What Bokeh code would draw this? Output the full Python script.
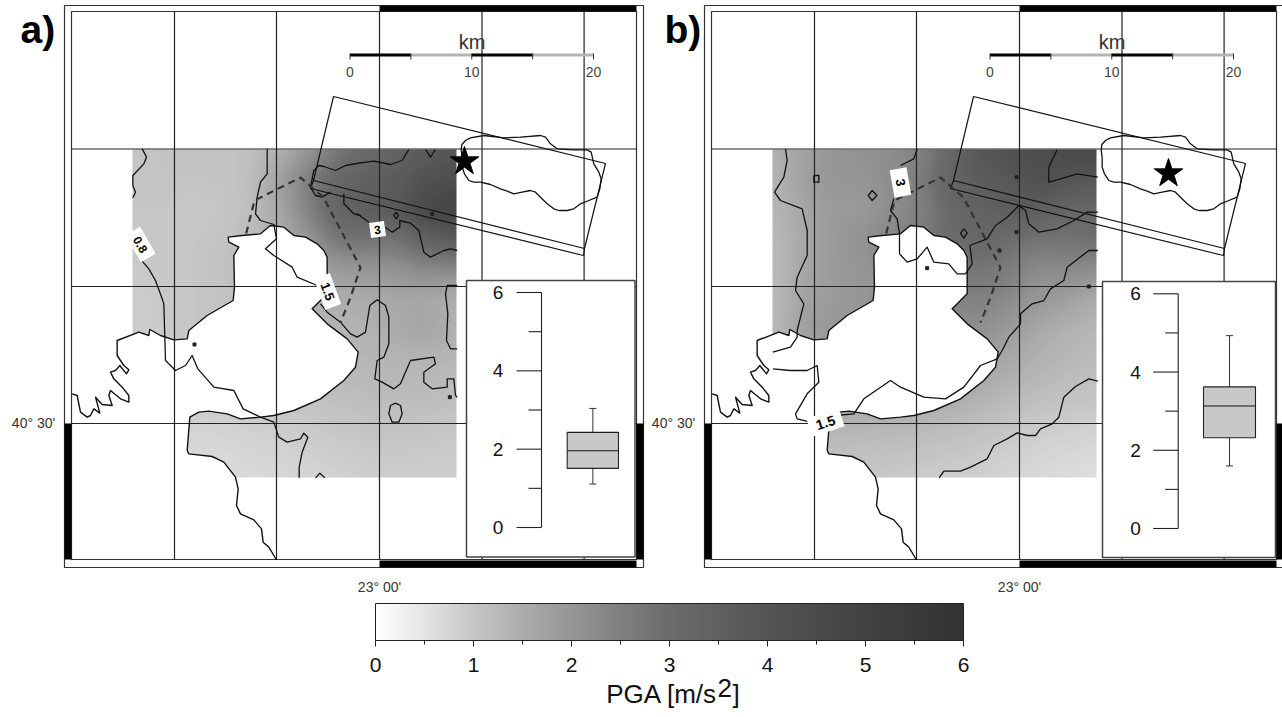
import numpy as np
from bokeh.plotting import figure
from bokeh.models import Range1d, LinearColorMapper
from bokeh.core.properties import value
from bokeh.embed import file_html
from bokeh.resources import INLINE

FONT = value("Liberation Sans")
W, H = 1282, 717
SHIFT = 640

# PGA field estimates, m/s2 (rows top to bottom, columns left to right)
pga_a = [
 [1.05,1.05,1.10,1.10,1.10,1.40,2.00,2.70,3.10,3.30,3.70,3.90],
 [1.05,1.05,1.05,1.05,1.15,1.80,2.60,3.30,3.50,3.70,4.10,4.40],
 [1.00,1.00,0.95,1.00,1.15,1.60,2.50,3.40,3.60,3.80,4.70,5.00],
 [1.00,1.00,1.00,1.05,1.20,1.50,2.00,2.80,2.80,2.80,3.40,3.70],
 [0.95,1.00,1.00,1.10,1.25,1.40,1.60,1.90,2.00,2.10,2.30,2.30],
 [0.90,0.95,1.00,1.05,1.15,1.25,1.40,1.50,1.50,1.60,1.60,1.40],
 [0.90,0.95,1.00,1.10,1.20,1.25,1.30,1.35,1.40,1.55,1.70,1.40],
 [0.85,0.90,1.00,1.10,1.15,1.20,1.25,1.30,1.30,1.35,1.35,1.30],
 [0.85,0.90,0.95,1.00,1.05,1.10,1.15,1.20,1.25,1.25,1.25,1.20],
 [0.75,0.80,0.85,0.85,0.90,0.95,1.00,1.05,1.10,1.10,1.10,1.05],
 [0.70,0.72,0.72,0.72,0.78,0.82,0.88,0.92,0.98,1.00,0.95,0.95],
 [0.62,0.65,0.65,0.65,0.70,0.72,0.78,0.82,0.88,0.90,0.90,0.90],
]
pga_b = [
 [1.40,1.70,2.00,2.10,2.20,2.40,3.20,3.90,4.20,4.40,4.60,4.60],
 [1.30,1.80,2.00,2.00,2.20,2.60,3.30,3.60,3.80,4.20,4.00,3.80],
 [1.30,1.60,1.90,1.90,2.20,2.40,3.20,3.40,3.60,3.60,3.20,3.20],
 [1.20,1.60,1.90,2.10,2.40,2.60,3.00,3.20,3.00,2.80,2.80,3.00],
 [1.20,1.60,1.90,2.00,2.20,2.40,2.60,2.80,2.60,2.20,2.30,2.20],
 [1.20,1.70,1.90,2.00,2.20,2.20,2.40,2.50,2.30,2.00,1.80,1.50],
 [1.20,1.80,2.00,2.00,2.00,2.00,2.20,2.20,1.90,1.60,1.40,1.30],
 [1.20,1.60,1.80,1.90,2.00,2.00,2.00,1.80,1.60,1.40,1.30,1.20],
 [1.20,1.50,1.70,1.80,1.80,1.80,1.70,1.50,1.35,1.25,1.15,1.10],
 [1.45,1.45,1.45,1.45,1.40,1.35,1.30,1.20,1.10,1.00,0.95,0.90],
 [1.15,1.15,1.15,1.15,1.15,1.10,1.05,1.00,0.90,0.80,0.75,0.70],
 [1.00,1.00,1.00,1.00,0.95,0.92,0.88,0.85,0.75,0.70,0.65,0.60],
]
# Grey ramp
ramp_values = [0, 0.5, 1, 1.5, 2, 2.5, 3, 4, 5, 6]
ramp_greys = [255, 228, 198, 172, 150, 128, 108, 84, 66, 50]
# Box statistics (whisker low, Q1, median, Q3, whisker high)
box_a = [1.11, 1.51, 1.96, 2.43, 3.04]
box_b = [1.60, 2.32, 3.13, 3.62, 4.93]
inset_ticks = [0, 1, 2, 3, 4, 5, 6]
bar_ticks = [0, 1, 2, 3, 4, 5, 6]
km_ticks = [0, 5, 10, 15, 20]
km_labels = ["0", "10", "20"]


def P(ox, oy, seq):
    return [(ox + a / 3, oy + b / 3) for a, b in seq]


coast = P(60, 280, [(648,838),(640,825),(625,800),(608,785),(603,745),(580,718),(540,700),(528,675),(533,625),(525,590),(490,545),(455,528),(385,520),(380,510),(388,410),(415,395),(445,392),(500,400),(540,415),(600,410),(640,405),(700,390),(780,355),(850,300),(885,260),(893,215),(860,175),(800,130),(755,85),(765,75),(800,40),(800,-70),(790,-90),(770,-110),(735,-130),(700,-135),(670,-160),(630,-165),(600,-140),(545,-135),(503,-130),(505,-115),(535,-100),(520,-75),(522,20),(518,60),(440,105),(385,150),(380,175),(340,178),(300,165),(268,147),(265,165),(235,155),(170,180),(170,225),(190,255),(205,268),(198,280),(178,255),(165,270),(150,275),(160,295),(185,320),(205,345),(205,365),(180,355),(150,330),(145,345),(155,375),(125,372),(105,350),(118,398),(100,385),(90,405),(80,410),(60,395),(50,345),(35,340)])
sea_closure = [(71, 393), (71, 559)]

fault_box = [(333,96),(605,163),(584,248),(313,180),(333,96)]
fault_lower = [(313,180),(310,188),(583,255),(584,248)]
dashed_trace = [(245.7,233),(254,200),(300,177),(323,197),(360,267),(350,297),(340,322)]
blob = P(340, 0, [(365,470),(362,450),(364,432),(375,420),(390,412),(430,405),(490,412),(540,410),(600,405),(615,410),(630,430),(650,445),(700,448),(740,448),(752,455),(760,490),(775,515),(782,535),(778,565),(770,590),(745,600),(720,610),(700,625),(680,630),(655,630),(640,625),(620,610),(600,590),(585,575),(570,570),(545,575),(520,580),(500,572),(480,565),(450,552),(420,545),(400,545),(385,540),(372,520),(365,500),(365,470)])

contours_a = [
 P(60,0,[(245,445),(258,470),(250,490),(217,525),(217,555),(225,575),(217,592)]),
 P(60,0,[(245,782),(265,805),(285,840),(305,895)]) + P(60,280,[(310,70),(315,240),(345,270),(375,255),(395,225),(412,265),(460,320),(520,330),(548,385),(600,410),(640,425),(655,470),(680,485),(720,475),(730,458),(742,470),(725,515),(716,560),(716,592)]),
 P(60,0,[(620,445),(620,520),(600,545),(590,590),(585,640),(600,660),(640,672),(648,715),(615,745),(640,765),(695,800),(710,830),(770,855)]),
 P(60,280,[(780,70),(800,95)]) + P(340,280,[(0,125),(30,160),(50,170),(75,155),(88,75),(110,58),(135,75),(145,110),(145,190),(130,230),(110,240),(103,295),(125,305),(160,325),(180,310),(210,240),(280,230),(285,250),(250,275),(250,305),(275,325),(320,320),(320,295),(340,295),(345,345),(350,350)]),
 P(340,280,[(350,15),(320,15),(315,40),(322,100),(318,180),(330,205),(350,205)]),
 P(340,280,[(165,368),(150,375),(145,400),(155,425),(175,425),(185,400),(180,375),(165,368)]),
 P(60,280,[(765,592),(778,578),(793,592)]),
 P(60,0,[(810,575),(785,590),(765,585),(750,560),(760,510),(775,495),(790,498),(825,510),(855,495),(900,487)]) + P(340,0,[(40,490),(100,482),(150,492),(185,480),(205,447)]),
 P(60,0,[(850,580),(850,610),(880,640),(900,645)]) + P(340,0,[(50,640),(85,665)]),
 P(340,0,[(135,680),(155,695),(178,680),(178,660),(210,668),(235,690),(250,755),(270,770),(310,750),(330,745),(350,750)]),
 P(340,0,[(255,447),(270,470),(285,447)]),
 P(340,0,[(167,635),(160,645),(167,655),(174,645),(167,635)]),
]
contours_b = [
 P(60,130,[(255,55),(260,90),(250,140),(222,185),(240,210),(305,235),(320,300),(320,375),(290,440),(285,480),(310,520),(290,600),(290,620),(270,650),(217,665)]),
 P(60,280,[(217,265),(270,270),(320,270),(350,255),(355,305),(320,340),(285,400),(290,415),(330,425)]),
 P(60,280,[(405,405),(460,400),(490,355),(570,300),(600,320),(670,350),(735,355),(790,320),(840,255),(890,235),(905,210),(925,170)]) + P(320,280,[(145,170),(180,130),(180,100),(215,70),(250,60),(270,25),(310,0)]) + P(320,0,[(320,800),(385,750),(412,750)]),
 P(60,130,[(795,430),(815,400),(808,345),(860,325),(885,285),(920,260),(955,225)]) + P(320,0,[(195,630),(205,670),(235,695),(290,685),(340,660),(380,635),(412,635)]),
 P(60,130,[(650,55),(640,85),(600,105)]),
 P(60,130,[(580,205),(570,240),(590,265),(597,310),(597,370),(620,395),(650,385),(680,350),(700,395),(745,400),(770,430),(795,430)]),
 P(320,0,[(290,447),(265,500),(265,545),(300,535),(350,520),(412,530)]),
 P(320,280,[(412,302),(385,295),(345,318),(310,350),(295,410),(275,430),(240,445),(225,465),(200,465),(170,457),(140,475),(100,495),(80,535),(30,560),(0,572)]) + P(60,280,[(730,572),(716,592)]),
 P(60,130,[(515,180),(503,195),(515,210),(529,195),(515,180)]),
 P(60,130,[(340,135),(355,135),(355,155),(340,155),(340,135)]),
 P(60,130,[(790,295),(780,308),(790,323),(800,308),(790,295)]),
]
dots_a = P(60,280,[(402,192)]) + P(340,280,[(328,350)]) + P(340,0,[(275,640)])
dots_b = P(320,0,[(168,530),(168,695),(117,750),(385,858)]) + P(60,130,[(680,413)])

stars = {"a": (464, 161), "b": (1168, 173)}

p = figure(width=W, height=H, output_backend="svg", toolbar_location=None,
           x_range=Range1d(0, W), y_range=Range1d(H, 0),
           min_border=0, outline_line_color=None)
p.axis.visible = False
p.grid.visible = False

ramp_x = np.linspace(0, 6, 256)
palette = ["#%02x%02x%02x" % (g, g, g) for g in np.interp(ramp_x, ramp_values, ramp_greys).round().astype(int)]
mapper = LinearColorMapper(palette=palette, low=0, high=6)


def raster(field):
    """Resample the coarse estimate for display only: bilinear, then a box blur."""
    arr = np.array(field, dtype=float)
    n = 216
    rows = np.linspace(0, arr.shape[0] - 1, n)
    cols = np.linspace(0, arr.shape[1] - 1, n)
    tmp = np.array([np.interp(cols, np.arange(arr.shape[1]), r) for r in arr])
    out = np.array([np.interp(rows, np.arange(arr.shape[0]), tmp[:, j]) for j in range(n)]).T
    k = np.ones(13) / 13
    for _ in range(2):
        out = np.apply_along_axis(lambda v: np.convolve(np.pad(v, 6, mode="edge"), k, mode="valid"), 0, out)
        out = np.apply_along_axis(lambda v: np.convolve(np.pad(v, 6, mode="edge"), k, mode="valid"), 1, out)
    return out


def poly(seq, dx=0):
    return [a + dx for a, _ in seq], [b for _, b in seq]


def rect_patch(x0, x1, y0, y1, color):
    p.quad(left=[x0], right=[x1], top=[y0], bottom=[y1], fill_color=color, line_color=None)


def draw_panel(dx, field, contours, dots, star, box, inset, label, lab_x):
    p.image(image=[raster(field)], x=132 + dx, y=149, dw=324, dh=328, color_mapper=mapper)
    # sea mask
    xs, ys = poly(coast + sea_closure, dx)
    p.patch(xs, ys, fill_color="white", line_color=None)
    # frame
    p.quad(left=[64 + dx], right=[643 + dx], top=[5], bottom=[567], fill_color=None, line_color="#333333", line_width=1.2)
    p.quad(left=[71 + dx], right=[636 + dx], top=[11], bottom=[559], fill_color=None, line_color="#333333", line_width=1.2)
    rect_patch(379 + dx, 636 + dx, 5, 11, "black")
    rect_patch(379 + dx, 636 + dx, 560, 567, "black")
    rect_patch(64 + dx, 71 + dx, 423, 559, "black")
    rect_patch(636 + dx, 643 + dx, 423, 559, "black")
    # graticule
    for gx in [174, 276, 379, 481.5, 583.6]:
        p.line([gx + dx, gx + dx], [11, 559], line_color="#222222", line_width=1.2)
    for gy in [148.5, 286, 423]:
        p.line([71 + dx, 636 + dx], [gy, gy], line_color="#222222", line_width=1.2)
    # contours and outlines
    cx = [[a + dx for a, _ in c] for c in contours]
    cy = [[b for _, b in c] for c in contours]
    p.multi_line(cx, cy, line_color="#111111", line_width=1.3, line_join="round")
    xs, ys = poly(coast, dx)
    p.line(xs, ys, line_color="#111111", line_width=1.4, line_join="round")
    xs, ys = poly(blob, dx)
    p.line(xs, ys, line_color="#111111", line_width=1.3, line_join="round")
    xs, ys = poly(fault_box, dx)
    p.line(xs, ys, line_color="#111111", line_width=1.2)
    xs, ys = poly(fault_lower, dx)
    p.line(xs, ys, line_color="#111111", line_width=1.2)
    xs, ys = poly(dashed_trace, dx)
    p.line(xs, ys, line_color="#333333", line_width=2.2, line_dash="7 5")
    p.scatter([a + dx for a, _ in dots], [b for _, b in dots], size=3, marker="square", color="#222222")
    p.scatter([star[0]], [star[1]], marker="star", size=30, fill_color="black", line_color="black")
    # scale bar
    kx = lambda km: 349.5 + dx + km * 243.5 / 20
    for i in range(4):
        rect_patch(kx(km_ticks[i]), kx(km_ticks[i + 1]), 53, 56, "black" if i % 2 == 0 else "#b4b4b4")
    for k in km_ticks:
        p.line([kx(k), kx(k)], [53, 59], line_color="#333333", line_width=1)
    p.text([kx(int(t)) for t in km_labels], [71] * 3, text=km_labels, text_font=FONT, text_font_size="14px",
           text_color="#444444", text_align="center", text_baseline="middle")
    p.text([471.5 + dx], [41], text=["km"], text_font=FONT, text_font_size="20px", text_color="#333333",
           text_align="center", text_baseline="middle")
    # inset
    ix0, ix1, iy0, iy1, ax, lx, bx0, bx1, y0v, y6v = inset
    p.quad(left=[ix0], right=[ix1], top=[iy0], bottom=[iy1], fill_color="white", line_color="#444444", line_width=1.5)
    vy = lambda v: y0v + (y6v - y0v) * v / 6
    p.line([ax, ax], [vy(0), vy(6)], line_color="#222222", line_width=1.1)
    for t in inset_ticks:
        major = t % 2 == 0
        p.line([ax - (25 if major else 13), ax], [vy(t), vy(t)], line_color="#222222", line_width=1.1)
        if major:
            p.text([lx], [vy(t)], text=[str(t)], text_font=FONT, text_font_size="19px", text_color="#111111",
                   text_align="center", text_baseline="middle")
    lo, q1, med, q3, hi = box
    mx = (bx0 + bx1) / 2
    p.line([mx, mx], [vy(lo), vy(q1)], line_color="#333333", line_width=1)
    p.line([mx, mx], [vy(q3), vy(hi)], line_color="#333333", line_width=1)
    for v in (lo, hi):
        p.line([mx - 3.5, mx + 3.5], [vy(v), vy(v)], line_color="#333333", line_width=1)
    p.quad(left=[bx0], right=[bx1], top=[vy(q3)], bottom=[vy(q1)], fill_color="#c8c8c8", line_color="#222222", line_width=1.1)
    p.line([bx0, bx1], [vy(med), vy(med)], line_color="#111111", line_width=1.1)
    # panel letter and coordinates
    p.text([lab_x], [29], text=[label], text_font=FONT, text_font_size="39px", text_font_style="bold",
           text_color="black", text_align="left", text_baseline="middle")
    p.text([33 + dx], [422], text=["40° 30'"], text_font=FONT, text_font_size="14px",
           text_color="#333333", text_align="center", text_baseline="middle")
    p.text([379 + dx], [586], text=["23° 00'"], text_font=FONT, text_font_size="14px",
           text_color="#333333", text_align="center", text_baseline="middle")


def tag(x, y, w, h, deg, txt, size="11px"):
    a = np.deg2rad(deg)
    p.rect([x], [y], width=w, height=h, angle=[a], fill_color="white", line_color=None, width_units="screen", height_units="screen")
    p.text([x], [y], text=[txt], angle=[a], text_font=FONT, text_font_size=size, text_font_style="bold",
           text_color="black", text_align="center", text_baseline="middle")


inset_a = (466, 634.5, 280, 556.5, 541, 497.5, 566.7, 618, 527, 292)
inset_b = (1102, 1275, 281, 557, 1177.7, 1135, 1203, 1255, 528, 293.3)
draw_panel(0, pga_a, contours_a, dots_a, stars["a"], box_a, inset_a, "a)", 20)
draw_panel(SHIFT, pga_b, contours_b, dots_b, stars["b"], box_b, inset_b, "b)", 664)

tag(140, 244, 31, 17, -60, "0.8", "12px")
tag(327, 291, 33, 17, -70, "1.5", "13px")
tag(377, 229, 15, 15, 8, "3", "12px")
tag(900, 182, 28, 17, -80, "3", "13px")
tag(825, 422, 34, 19, 18, "1.5", "14px")

# colour bar
cb0, cb1 = 375, 963
bx = lambda v: cb0 + (cb1 - cb0) * v / 6
p.image(image=[np.array([ramp_x])], x=cb0, y=603, dw=cb1 - cb0, dh=37, color_mapper=mapper)
p.quad(left=[cb0], right=[cb1], top=[603], bottom=[640], fill_color=None, line_color="#222222", line_width=1)
for t in bar_ticks:
    p.line([bx(t), bx(t)], [640, 646], line_color="#222222", line_width=1)
    p.text([bx(t)], [664], text=[str(t)], text_font=FONT, text_font_size="21px", text_color="#111111",
           text_align="center", text_baseline="middle")
for t in bar_ticks[:-1]:
    p.line([bx(t + 0.5), bx(t + 0.5)], [640, 644], line_color="#222222", line_width=1)
p.text([717], [693], text=["PGA [m/s"], text_font=FONT, text_font_size="26px", text_color="#111111",
       text_align="right", text_baseline="middle")
p.text([717], [687], text=["2"], text_font=FONT, text_font_size="26px", text_color="#111111",
       text_align="left", text_baseline="middle")
p.text([732], [693], text=["]"], text_font=FONT, text_font_size="26px", text_color="#111111",
       text_align="left", text_baseline="middle")

open("out.html", "w").write(file_html(p, INLINE))
